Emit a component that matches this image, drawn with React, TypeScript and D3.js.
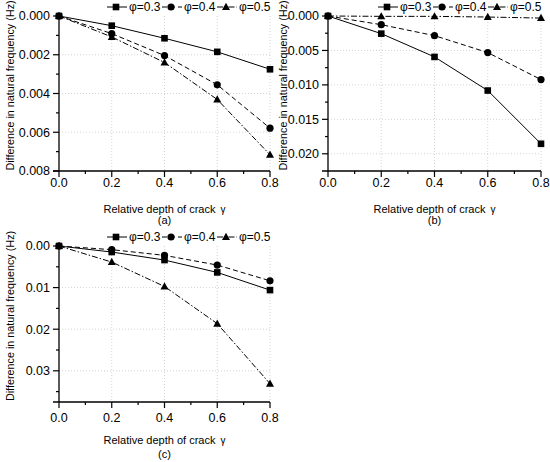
import React from "react";
import * as d3 from "d3";

const gammaValues = [0, 0.2, 0.4, 0.6, 0.8];
const seriesNames = ["φ=0.3", "φ=0.4", "φ=0.5"];

const panelA03 = [0, 0.0005, 0.00115, 0.00185, 0.00275];
const panelA04 = [0, 0.00091, 0.00204, 0.00355, 0.00579];
const panelA05 = [0, 0.00108, 0.0024, 0.00431, 0.00716];

const panelB03 = [0, 0.00256, 0.00594, 0.01082, 0.01855];
const panelB04 = [0, 0.00126, 0.00285, 0.00531, 0.00923];
const panelB05 = [0, 0.00005, 0.00005, 0.00015, 0.0003];

const panelC03 = [0, 0.00145, 0.00338, 0.00635, 0.0106];
const panelC04 = [0, 0.00088, 0.00225, 0.00458, 0.00836];
const panelC05 = [0, 0.00386, 0.00973, 0.01866, 0.0331];

const yTicksA = [0, 0.002, 0.004, 0.006, 0.008];
const yTicksB = [0, 0.005, 0.01, 0.015, 0.02];
const yTicksC = [0, 0.01, 0.02, 0.03];
const xTicks = [0, 0.2, 0.4, 0.6, 0.8];
const xMinorTicks = [0.1, 0.3, 0.5, 0.7];

const FONT = "'Liberation Sans', Arial, Helvetica, sans-serif";
const dashes = [null, "5,3", "6,2,1.5,2"];

function Marker({ kind, x, y }: { kind: number; x: number; y: number }) {
  if (kind === 0) return <rect x={x - 3.3} y={y - 3.3} width={6.6} height={6.6} fill="#000" />;
  if (kind === 1) return <circle cx={x} cy={y} r={3.6} fill="#000" />;
  return <path d={`M${x},${y - 4.2}L${x + 4},${y + 3}L${x - 4},${y + 3}Z`} fill="#000" />;
}

type PanelProps = {
  left: number; top: number; right: number; bottom: number;
  yMax: number; yTicks: number[]; yMinor: number[]; fmt: string;
  series: number[][]; label: string; titleY: number; tickLabelY: number; letterY: number; yTitleX: number;
};

function Panel(p: PanelProps) {
  const x = d3.scaleLinear().domain([0, 0.8]).range([p.left, p.right]);
  const y = d3.scaleLinear().domain([0, p.yMax]).range([p.top, p.bottom]);
  const f = d3.format(p.fmt);
  const line = d3.line<number>().x((_, i) => x(gammaValues[i])).y((v) => y(v));
  const cx = (p.left + p.right) / 2;
  const cy = (p.top + p.bottom) / 2;
  const legendStart = p.right - 163;
  return (
    <g fontFamily={FONT}>
      {xTicks.filter((t) => t > 0).map((t) => (
        <line key={"gx" + t} x1={x(t)} x2={x(t)} y1={p.top} y2={p.bottom} stroke="#c8c8c8" strokeWidth={0.8} strokeDasharray="1,2" />
      ))}
      {p.yTicks.filter((t) => t > 0 && y(t) < p.bottom - 1).map((t) => (
        <line key={"gy" + t} x1={p.left} x2={p.right} y1={y(t)} y2={y(t)} stroke="#c8c8c8" strokeWidth={0.8} strokeDasharray="1,2" />
      ))}
      <line x1={p.left} x2={p.left} y1={p.top} y2={p.bottom} stroke="#000" strokeWidth={1.3} />
      <line x1={p.left - 6} x2={p.right} y1={p.bottom} y2={p.bottom} stroke="#000" strokeWidth={1.3} />
      {p.yTicks.map((t) => (
        <g key={"yt" + t}>
          <line x1={p.left - 6} x2={p.left} y1={y(t)} y2={y(t)} stroke="#000" strokeWidth={1.2} />
          <text x={p.left - 9} y={y(t)} dy="0.35em" textAnchor="end" fontSize={12.5}>{f(t)}</text>
        </g>
      ))}
      {p.yMinor.map((t) => (
        <line key={"ym" + t} x1={p.left - 3} x2={p.left} y1={y(t)} y2={y(t)} stroke="#000" strokeWidth={1.2} />
      ))}
      {xTicks.map((t) => (
        <g key={"xt" + t}>
          <line x1={x(t)} x2={x(t)} y1={p.bottom} y2={p.bottom + 6} stroke="#000" strokeWidth={1.2} />
          <text x={x(t)} y={p.tickLabelY} dy="0.35em" textAnchor="middle" fontSize={12.5}>{d3.format(".1f")(t)}</text>
        </g>
      ))}
      {xMinorTicks.map((t) => (
        <line key={"xm" + t} x1={x(t)} x2={x(t)} y1={p.bottom} y2={p.bottom + 3} stroke="#000" strokeWidth={1.2} />
      ))}
      <text x={cx} y={p.titleY} dy="0.35em" textAnchor="middle" fontSize={11}>
        Relative depth of crack<tspan dx="5" fontSize={10}>γ</tspan>
      </text>
      <text x={cx} y={p.letterY} dy="0.35em" textAnchor="middle" fontSize={11}>{p.label}</text>
      <text transform={`translate(${p.yTitleX},${cy - 8}) rotate(-90)`} dy="0.35em" textAnchor="middle" fontSize={10.8}>
        Difference in natural frequency (Hz)
      </text>
      {p.series.map((s, k) => (
        <g key={"s" + k}>
          <path d={line(s) || ""} fill="none" stroke="#000" strokeWidth={1} strokeDasharray={dashes[k] || undefined} />
          {s.map((v, i) => (
            <Marker key={i} kind={k} x={x(gammaValues[i])} y={y(v)} />
          ))}
        </g>
      ))}
      {seriesNames.map((name, k) => {
        const lx = legendStart + k * 55;
        const ly = p.top - 9;
        return (
          <g key={"lg" + k}>
            <line x1={lx} x2={lx + 20} y1={ly} y2={ly} stroke="#000" strokeWidth={1} strokeDasharray={dashes[k] || undefined} />
            <Marker kind={k} x={lx + 9} y={ly} />
            <text x={lx + 22} y={ly} dy="0.35em" fontSize={12}>{name}</text>
          </g>
        );
      })}
    </g>
  );
}

export default function App() {
  return (
    <svg width={550} height={462} style={{ position: "absolute", left: 0, top: 0, background: "#fff" }}>
      <rect width={550} height={462} fill="#fff" />
      <Panel left={59} top={16} right={270} bottom={171} yMax={0.008} yTicks={yTicksA}
        yMinor={[0.001, 0.003, 0.005, 0.007]} fmt=".3f" series={[panelA03, panelA04, panelA05]}
        label="(a)" titleY={209} tickLabelY={183} letterY={220} yTitleX={10} />
      <Panel left={328} top={16} right={541} bottom={171} yMax={0.0225} yTicks={yTicksB}
        yMinor={[0.0025, 0.0075, 0.0125, 0.0175]} fmt=".3f" series={[panelB03, panelB04, panelB05]}
        label="(b)" titleY={209} tickLabelY={183} letterY={220} yTitleX={283} />
      <Panel left={59} top={246} right={270} bottom={402} yMax={0.0375} yTicks={yTicksC}
        yMinor={[0.005, 0.015, 0.025, 0.035]} fmt=".2f" series={[panelC03, panelC04, panelC05]}
        label="(c)" titleY={440} tickLabelY={418} letterY={454} yTitleX={10} />
    </svg>
  );
}
